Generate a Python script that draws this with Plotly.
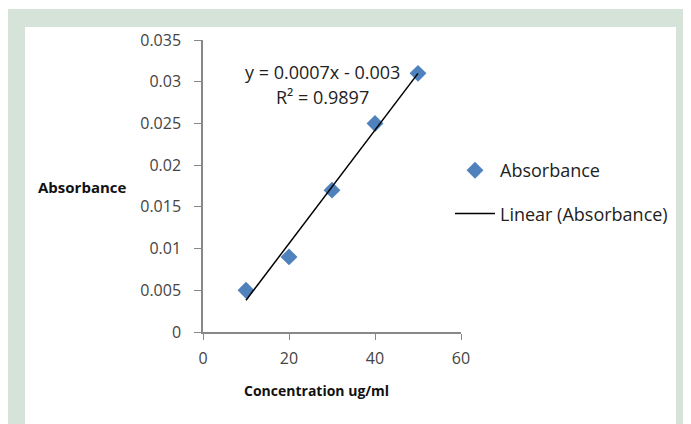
import numpy as np
import plotly.graph_objects as go

concentration = [10, 20, 30, 40, 50]
absorbance = [0.005, 0.009, 0.017, 0.025, 0.031]
y_ticks = [0, 0.005, 0.01, 0.015, 0.02, 0.025, 0.03, 0.035]
y_tick_labels = ["0", "0.005", "0.01", "0.015", "0.02", "0.025", "0.03", "0.035"]
x_ticks = [0, 20, 40, 60]

slope, intercept = np.polyfit(concentration, absorbance, 1)
fit_x = [min(concentration), max(concentration)]
fit_y = [slope * v + intercept for v in fit_x]

OFF = 8  # page body margin
W, H = 691, 424
# plot area in page coordinates: x 203..461, y 40..332
ml = 203 - OFF
mt = 40 - OFF
pw = 461 - 203
ph = 332 - 40
mr = W - ml - pw
mb = H - mt - ph

def px(xp):
    return (xp - OFF - ml) / pw

def py(yp):
    return 1 - (yp - OFF - mt) / ph

font = "Open Sans"
fig = go.Figure()
fig.add_trace(go.Scatter(
    x=concentration, y=absorbance, mode="markers", name="Absorbance",
    legendgroup="a",
    marker=dict(symbol="diamond", size=13, color="#4f81bd"),
))
fig.add_trace(go.Scatter(
    x=fit_x, y=fit_y, mode="lines", name="Linear (Absorbance)",
    legendgroup="b",
    line=dict(color="black", width=1.5),
))

def note(text, x, y, size, color="#222"):
    return dict(text=text, xref="paper", yref="paper", x=px(x), y=py(y),
                xanchor="center", yanchor="middle", showarrow=False,
                font=dict(size=size, color=color))

fig.update_layout(
    width=W, height=H,
    margin=dict(l=ml, r=mr, t=mt, b=mb, pad=0),
    paper_bgcolor="white", plot_bgcolor="white",
    font=dict(family=font, size=14, color="#333"),
    showlegend=True,
    legend=dict(x=px(450), y=py(152), xanchor="left", yanchor="top",
                bgcolor="rgba(0,0,0,0)", font=dict(size=18, color="#222"),
                tracegroupgap=17, itemwidth=40),
    xaxis=dict(range=[0, 60], tickvals=x_ticks, showgrid=False, zeroline=False,
               showline=True, linecolor="#888", linewidth=1.5,
               ticks="outside", ticklen=6, tickcolor="#888",
               ticklabelstandoff=5,
               tickfont=dict(size=16, color="#444"), fixedrange=True),
    yaxis=dict(range=[0, 0.035], tickvals=y_ticks, ticktext=y_tick_labels,
               showgrid=False, zeroline=False,
               showline=True, linecolor="#888", linewidth=1.5,
               ticks="outside", ticklen=7, tickcolor="#888",
               ticklabelstandoff=10,
               tickfont=dict(size=16, color="#444"), fixedrange=True),
    shapes=[
        dict(type="rect", xref="paper", yref="paper", layer="below",
             x0=px(7), x1=px(W + 20), y0=py(H + 20), y1=py(9),
             fillcolor="#d6e3d8", line=dict(width=0)),
        dict(type="rect", xref="paper", yref="paper", layer="below",
             x0=px(25), x1=px(676), y0=py(H + 20), y1=py(27),
             fillcolor="white", line=dict(width=0)),
    ],
    annotations=[
        note("y = 0.0007x - 0.003", 322, 72, 18),
        note("R² = 0.9897", 322, 97, 18),
        note("<b>Absorbance</b>", 82, 187, 15, "#111"),
        note("<b>Concentration ug/ml</b>", 316, 390, 14, "#111"),
    ],
)

fig.write_html("out.html")
